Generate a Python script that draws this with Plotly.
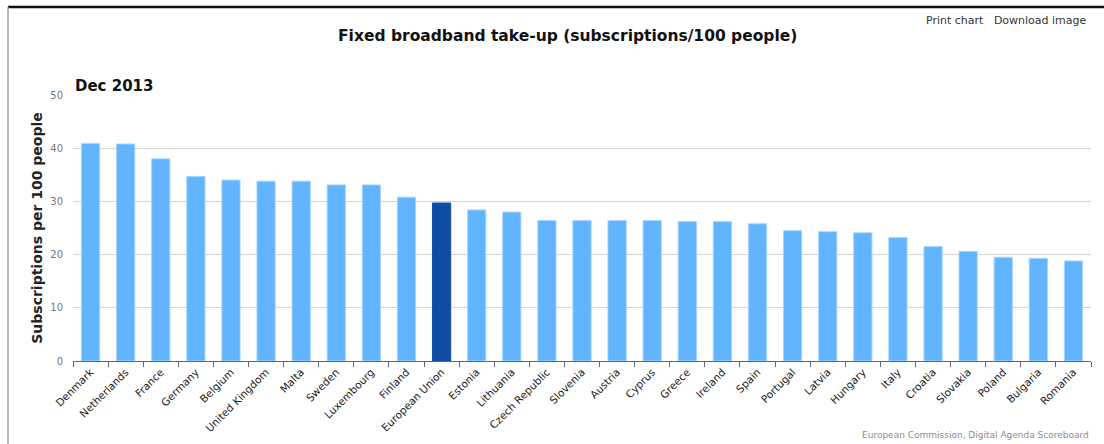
import plotly.graph_objects as go

# Fixed broadband take-up, Dec 2013 (subscriptions per 100 people)
countries = [
    "Denmark", "Netherlands", "France", "Germany", "Belgium", "United Kingdom",
    "Malta", "Sweden", "Luxembourg", "Finland", "European Union", "Estonia",
    "Lithuania", "Czech Republic", "Slovenia", "Austria", "Cyprus", "Greece",
    "Ireland", "Spain", "Portugal", "Latvia", "Hungary", "Italy", "Croatia",
    "Slovakia", "Poland", "Bulgaria", "Romania",
]
takeup = [
    40.9, 40.8, 38.0, 34.7, 34.0, 33.8,
    33.8, 33.1, 33.1, 30.8, 29.7, 28.4,
    28.0, 26.4, 26.4, 26.4, 26.4, 26.2,
    26.2, 25.8, 24.5, 24.3, 24.1, 23.2, 21.5,
    20.6, 19.5, 19.3, 18.8,
]
highlight = "European Union"

W, H = 1104, 444
L, R, T, B = 73, 13, 95, 83
PW, PH = W - L - R, H - T - B


def px(x):
    return (x - L) / PW


def py(y):
    return (H - B - y) / PH


light, dark = "#62b4fe", "#0e4ea2"
colors = [dark if c == highlight else light for c in countries]
edges = ["#0e4ea2" if c == highlight else "#a6d6ff" for c in countries]

fig = go.Figure(
    go.Bar(
        x=countries,
        y=takeup,
        marker=dict(color=colors, line=dict(color=edges, width=1)),
        width=0.52,
    )
)

font = "DejaVu Sans"

fig.update_layout(
    width=W,
    height=H,
    margin=dict(l=L, r=R, t=T, b=B, autoexpand=False),
    paper_bgcolor="white",
    plot_bgcolor="white",
    showlegend=False,
    font=dict(family=font, color="#333333"),
)

fig.update_xaxes(
    type="category",
    automargin=False,
    range=[-0.5, len(countries) - 0.5],
    tickangle=-45,
    tickson="boundaries",
    ticks="outside",
    ticklen=5,
    tickcolor="#666666",
    showline=True,
    linecolor="#666666",
    linewidth=1,
    showgrid=False,
    tickfont=dict(family=font, size=10.5, color="#1a1a1a"),
)

fig.update_yaxes(
    automargin=False,
    range=[0, 50],
    dtick=10,
    showgrid=True,
    gridcolor="#d4d4d4",
    gridwidth=1,
    zeroline=False,
    showline=False,
    ticks="",
    ticklabelstandoff=9,
    tickfont=dict(family=font, size=10, color="#777777"),
    title=dict(
        text="<b>Subscriptions per 100 people</b>",
        font=dict(family=font, size=14, color="#222222"),
        standoff=4,
    ),
)

annotations = [
    dict(
        text="<b>Fixed broadband take-up (subscriptions/100 people)</b>",
        x=px(567), y=py(36), xanchor="center", yanchor="middle",
        font=dict(family=font, size=15.5, color="#111111"),
    ),
    dict(
        text="<b>Dec 2013</b>",
        x=px(73), y=py(86), xanchor="left", yanchor="middle",
        font=dict(family=font, size=15, color="#111111"),
    ),
    dict(
        text="Print chart   Download image",
        x=px(1089), y=py(20), xanchor="right", yanchor="middle",
        font=dict(family=font, size=11, color="#333333"),
    ),
    dict(
        text="European Commission, Digital Agenda Scoreboard",
        x=px(1091), y=py(435), xanchor="right", yanchor="middle",
        font=dict(family=font, size=9, color="#8c8c8c"),
    ),
]
for a in annotations:
    a.update(xref="paper", yref="paper", showarrow=False)
fig.update_layout(annotations=annotations)

# Outer frame: dark top rule and grey left edge
fig.add_shape(type="line", xref="paper", yref="paper",
              x0=px(8), x1=px(W), y0=py(7), y1=py(7),
              line=dict(color="#111111", width=2.5))
fig.add_shape(type="line", xref="paper", yref="paper",
              x0=px(8), x1=px(8), y0=py(7), y1=py(H),
              line=dict(color="#a0a0a0", width=1.5))

fig.write_html("out.html")
